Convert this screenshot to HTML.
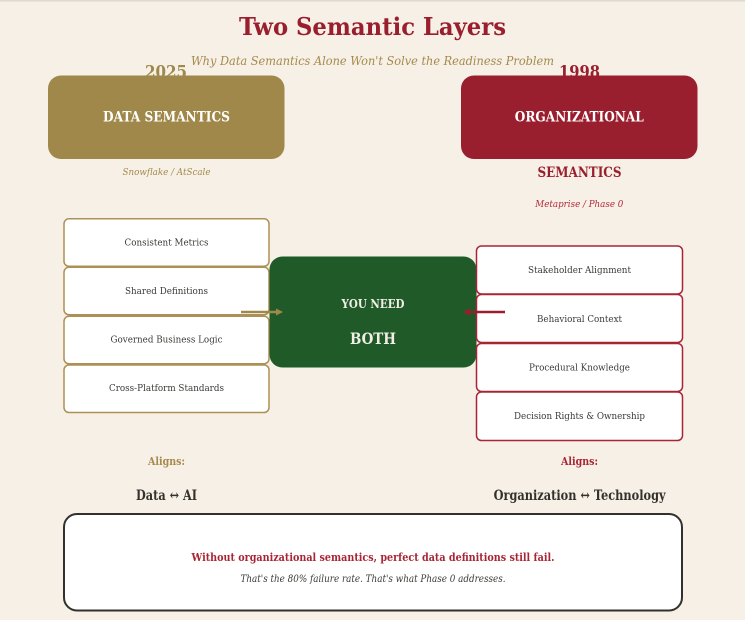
<!DOCTYPE html>
<html><head><meta charset="utf-8"><style>
html,body{margin:0;padding:0;background:#f6f0e6;}
svg{display:block;}
text{font-family:"DejaVu Serif","Liberation Serif",serif;}
</style></head><body>
<svg width="745" height="620" viewBox="0 0 745 620" xmlns="http://www.w3.org/2000/svg">
<rect x="0" y="0" width="745" height="620" fill="#f6f0e6"/>
<rect x="0" y="0" width="745" height="1.5" fill="#dcd8d2"/>
<text x="372.5" y="35" text-anchor="middle" font-size="24" font-weight="bold" fill="#9a1f2e" textLength="267" lengthAdjust="spacingAndGlyphs">Two Semantic Layers</text>
<text x="372.5" y="65" text-anchor="middle" font-size="12" font-style="italic" fill="#a68a4c" textLength="363" lengthAdjust="spacingAndGlyphs">Why Data Semantics Alone Won't Solve the Readiness Problem</text>
<text x="166" y="77.5" text-anchor="middle" font-size="17" font-weight="bold" fill="#a0884a" textLength="42" lengthAdjust="spacingAndGlyphs">2025</text>
<text x="579.5" y="77.5" text-anchor="middle" font-size="17" font-weight="bold" fill="#9a1f2e" textLength="41" lengthAdjust="spacingAndGlyphs">1998</text>
<rect x="48" y="75.5" width="236.5" height="83.5" rx="13" fill="#a0884a"/>
<text x="166.5" y="121.5" text-anchor="middle" font-size="14" font-weight="bold" fill="#ffffff" textLength="127" lengthAdjust="spacingAndGlyphs">DATA SEMANTICS</text>
<rect x="461" y="75.5" width="236.5" height="83.5" rx="13" fill="#9a1f2e"/>
<text x="579.3" y="121.5" text-anchor="middle" font-size="14" font-weight="bold" fill="#ffffff" textLength="129" lengthAdjust="spacingAndGlyphs">ORGANIZATIONAL</text>
<text x="166.5" y="175" text-anchor="middle" font-size="9.5" font-style="italic" fill="#a68a4c" textLength="88" lengthAdjust="spacingAndGlyphs">Snowflake / AtScale</text>
<text x="579.5" y="177" text-anchor="middle" font-size="14" font-weight="bold" fill="#9a1f2e" textLength="84" lengthAdjust="spacingAndGlyphs">SEMANTICS</text>
<text x="579.3" y="207" text-anchor="middle" font-size="9.5" font-style="italic" fill="#b5283a" textLength="88" lengthAdjust="spacingAndGlyphs">Metaprise / Phase 0</text>
<g fill="#ffffff" stroke="#ad9055" stroke-width="1.5">
<rect x="64" y="218.8" width="205" height="47.5" rx="5"/>
<rect x="64" y="267.3" width="205" height="47.5" rx="5"/>
<rect x="64" y="316.3" width="205" height="47.5" rx="5"/>
<rect x="64" y="365" width="205" height="47.5" rx="5"/>
</g>
<g font-size="9.5" fill="#3c3a36" text-anchor="middle">
<text x="166.5" y="245.5" textLength="84" lengthAdjust="spacingAndGlyphs">Consistent Metrics</text>
<text x="166.5" y="294" textLength="83" lengthAdjust="spacingAndGlyphs">Shared Definitions</text>
<text x="166.5" y="342.5" textLength="112" lengthAdjust="spacingAndGlyphs">Governed Business Logic</text>
<text x="166.5" y="391" textLength="115" lengthAdjust="spacingAndGlyphs">Cross-Platform Standards</text>
</g>
<rect x="269.5" y="256.5" width="207" height="111" rx="13" fill="#1f5a28"/>
<text x="373" y="308" text-anchor="middle" font-size="12" font-weight="bold" fill="#f2efe6" textLength="63" lengthAdjust="spacingAndGlyphs">YOU NEED</text>
<text x="373" y="344" text-anchor="middle" font-size="16" font-weight="bold" fill="#f2efe6" textLength="46" lengthAdjust="spacingAndGlyphs">BOTH</text>
<g fill="#ffffff" stroke="#a82535" stroke-width="1.5">
<rect x="476.5" y="246" width="206" height="48" rx="5"/>
<rect x="476.5" y="294.5" width="206" height="48" rx="5"/>
<rect x="476.5" y="343.5" width="206" height="48" rx="5"/>
<rect x="476.5" y="392" width="206" height="48.5" rx="5"/>
</g>
<g font-size="9.5" fill="#3c3a36" text-anchor="middle">
<text x="579.5" y="273" textLength="103" lengthAdjust="spacingAndGlyphs">Stakeholder Alignment</text>
<text x="579.5" y="322" textLength="85" lengthAdjust="spacingAndGlyphs">Behavioral Context</text>
<text x="579.5" y="370.5" textLength="101" lengthAdjust="spacingAndGlyphs">Procedural Knowledge</text>
<text x="579.5" y="419" textLength="131" lengthAdjust="spacingAndGlyphs">Decision Rights &amp; Ownership</text>
</g>
<line x1="241" y1="312" x2="277" y2="312" stroke="#a0884a" stroke-width="2.5"/>
<polygon points="276,308.5 283,312 276,315.5" fill="#a0884a"/>
<line x1="505" y1="312" x2="469" y2="312" stroke="#9a1f2e" stroke-width="2.5"/>
<polygon points="470,308.5 463,312 470,315.5" fill="#9a1f2e"/>
<text x="166.5" y="465" text-anchor="middle" font-size="11" font-weight="bold" fill="#a68a4c" textLength="37" lengthAdjust="spacingAndGlyphs">Aligns:</text>
<text x="579.5" y="465" text-anchor="middle" font-size="11" font-weight="bold" fill="#a82535" textLength="37" lengthAdjust="spacingAndGlyphs">Aligns:</text>
<text x="166.5" y="500" text-anchor="middle" font-size="14" font-weight="bold" fill="#33312d" textLength="61" lengthAdjust="spacingAndGlyphs">Data ↔ AI</text>
<text x="579.6" y="500" text-anchor="middle" font-size="14" font-weight="bold" fill="#33312d" textLength="172" lengthAdjust="spacingAndGlyphs">Organization ↔ Technology</text>
<rect x="64" y="514" width="618" height="96.5" rx="13" fill="#ffffff" stroke="#33312d" stroke-width="2"/>
<text x="373" y="561" text-anchor="middle" font-size="11" font-weight="bold" fill="#a82535" textLength="363" lengthAdjust="spacingAndGlyphs">Without organizational semantics, perfect data definitions still fail.</text>
<text x="373" y="582" text-anchor="middle" font-size="10" font-style="italic" fill="#3c3a36" textLength="265" lengthAdjust="spacingAndGlyphs">That's the 80% failure rate. That's what Phase 0 addresses.</text>
</svg>
</body></html>
